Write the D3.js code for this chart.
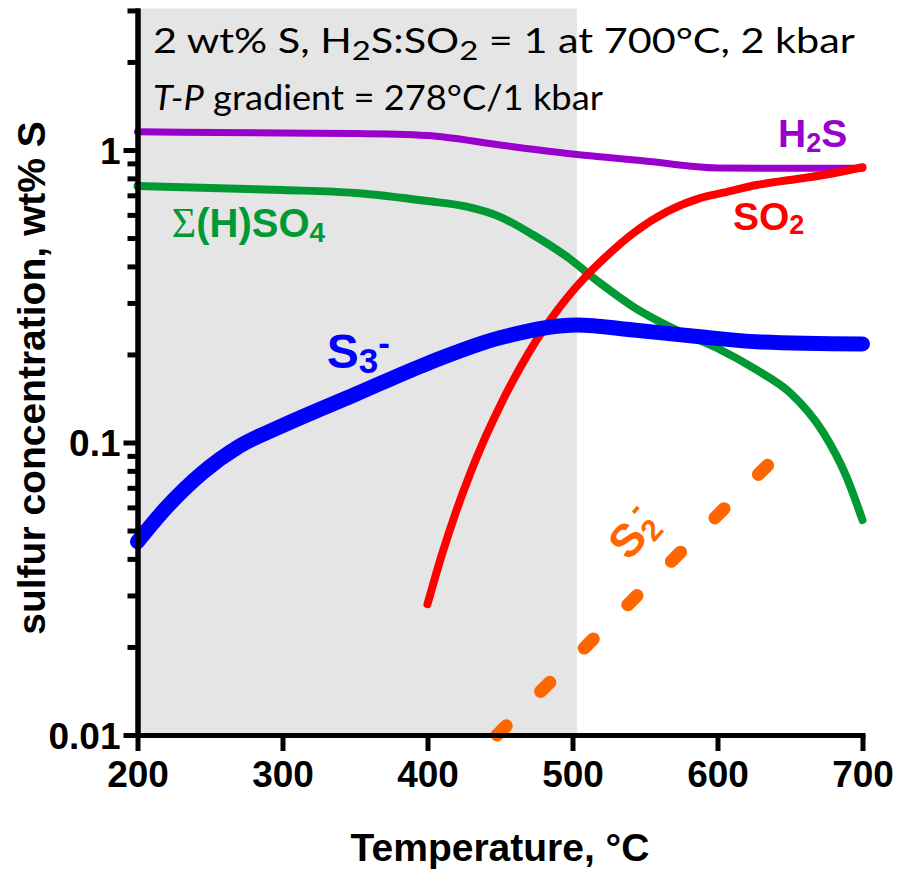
<!DOCTYPE html>
<html>
<head>
<meta charset="utf-8">
<script src="https://cdn.jsdelivr.net/npm/d3@7"></script>
<style>
  body { margin: 0; background: #fff; }
  svg { display: block; }
</style>
</head>
<body>
<script>
// values (temperature in °C, concentration in wt% S)
const h2sT = [200, 300, 350, 400, 450, 500, 550, 600, 650, 700];
const h2sWt = [1.155, 1.143, 1.139, 1.121, 1.040, 0.969, 0.917, 0.868, 0.866, 0.866];

const so4T = [200, 300, 350, 400, 427, 450, 473, 496, 519, 542, 575, 600, 627, 650, 673, 689, 700];
const so4Wt = [0.753, 0.730, 0.713, 0.669, 0.640, 0.591, 0.512, 0.432, 0.351, 0.291, 0.238, 0.210, 0.177, 0.148, 0.108, 0.0762, 0.0543];

const so2T = [400, 410, 420, 430, 440, 450, 460, 470, 480, 490, 500, 510, 520, 542, 565, 588, 604, 627, 650, 673, 700];
const so2Wt = [0.0280, 0.0415, 0.0586, 0.0796, 0.1045, 0.1334, 0.1663, 0.2032, 0.2432, 0.2851, 0.3289, 0.3733, 0.4178, 0.520, 0.615, 0.685, 0.7145, 0.759, 0.790, 0.821, 0.873];

const s3T = [200, 220, 245, 270, 300, 350, 400, 450, 503, 542, 588, 627, 700];
const s3Wt = [0.0458, 0.0600, 0.0790, 0.0970, 0.1142, 0.1459, 0.1864, 0.228, 0.2522, 0.2424, 0.2300, 0.2211, 0.2172];

const s2T = [448, 500, 550, 600, 635];
const s2Wt = [0.0100, 0.0181, 0.0319, 0.0564, 0.0840];

const xTicks = [200, 300, 400, 500, 600, 700];
const yMajor = [0.01, 0.1, 1];
const yMinor = [0.02, 0.03, 0.04, 0.05, 0.06, 0.07, 0.08, 0.09,
                0.2, 0.3, 0.4, 0.5, 0.6, 0.7, 0.8, 0.9, 2, 3];
const shadeEnd = 503;

const W = 897, H = 869;
const left = 137.5, right = 862.5, bottom = 735;

const x = d3.scaleLinear().domain([200, 700]).range([left, right]);
const y = d3.scaleLog().domain([0.01, 3]).range([bottom, bottom - 292.5 * Math.log10(300)]);

const svg = d3.select("body").append("svg")
    .attr("width", W)
    .attr("height", H);

// grey band up to ~500 °C
svg.append("rect")
    .attr("x", x(200))
    .attr("y", y(3) - 2)
    .attr("width", x(shadeEnd) - x(200))
    .attr("height", bottom - y(3) + 2)
    .attr("fill", "#e5e5e5");

const line = d3.line()
    .x(d => x(d[0]))
    .y(d => y(d[1]))
    .curve(d3.curveMonotoneX);

const zip = (a, b) => a.map((t, i) => [t, b[i]]);

const series = [
    { pts: zip(h2sT, h2sWt), color: "#9900cc", width: 7 },
    { pts: zip(so4T, so4Wt), color: "#009933", width: 8 },
    { pts: zip(so2T, so2Wt), color: "#ff0000", width: 8 },
    { pts: zip(s3T, s3Wt), color: "#0000ff", width: 15 },
];

series.forEach(s => {
    svg.append("path")
        .attr("d", line(s.pts))
        .attr("fill", "none")
        .attr("stroke", s.color)
        .attr("stroke-width", s.width)
        .attr("stroke-linecap", "round")
        .attr("stroke-linejoin", "round");
});

svg.append("path")
    .attr("d", line(zip(s2T, s2Wt)))
    .attr("fill", "none")
    .attr("stroke", "#ff6600")
    .attr("stroke-width", 13)
    .attr("stroke-linecap", "round")
    .attr("stroke-dasharray", "13,48.5");

// axes
const yMinorAxis = d3.axisLeft(y).tickValues(yMinor).tickFormat("").tickSize(10).tickSizeOuter(0);
const yAxis = d3.axisLeft(y).tickValues(yMajor).tickFormat(d3.format("~g")).tickSize(14).tickPadding(3).tickSizeOuter(0);
const xAxis = d3.axisBottom(x).tickValues(xTicks).tickSize(16).tickPadding(10).tickSizeOuter(0);

const gYm = svg.append("g").attr("transform", `translate(${left},0)`).call(yMinorAxis);
const gY = svg.append("g").attr("transform", `translate(${left},0)`).call(yAxis);
const gX = svg.append("g").attr("transform", `translate(0,${bottom})`).call(xAxis);

[gYm, gY, gX].forEach(g => {
    g.select(".domain").attr("stroke-width", 5).attr("stroke-linecap", "square");
    g.selectAll(".tick line").attr("stroke-width", 5);
    g.selectAll("text")
        .attr("font-family", "'Liberation Sans', Arial, sans-serif")
        .attr("font-weight", "bold")
        .attr("font-size", 37)
        .attr("fill", "#000");
});
gY.selectAll("text").attr("dy", "0.36em");

// axis titles
svg.append("text")
    .attr("x", 500)
    .attr("y", 861)
    .attr("text-anchor", "middle")
    .attr("font-family", "'Liberation Sans', Arial, sans-serif")
    .attr("font-weight", "bold")
    .attr("font-size", 39)
    .text("Temperature, °C");

svg.append("text")
    .attr("transform", "translate(45,378) rotate(-90)")
    .attr("text-anchor", "middle")
    .attr("font-family", "'Liberation Sans', Arial, sans-serif")
    .attr("font-weight", "bold")
    .attr("font-size", 39)
    .text("sulfur concentration, wt% S");

// condition notes, stretched to the widths seen in the reference
const fit = (t, x0, y0, target) => {
    const w = t.node().getComputedTextLength();
    t.attr("transform", `translate(${x0},${y0}) scale(${target / w},1) translate(${-x0},${-y0})`);
};

const note1 = svg.append("text")
    .attr("x", 153).attr("y", 53)
    .attr("font-family", "Lato, 'Open Sans', sans-serif")
    .attr("font-size", 34)
    .attr("fill", "#000");
note1.append("tspan").text("2 wt% S, H");
note1.append("tspan").attr("font-size", 27).attr("dy", 7).text("2");
note1.append("tspan").attr("dy", -7).text("S:SO");
note1.append("tspan").attr("font-size", 27).attr("dy", 7).text("2");
note1.append("tspan").attr("dy", -7).text(" = 1 at 700°C, 2 kbar");
fit(note1, 153, 53, 702);

const note2 = svg.append("text")
    .attr("x", 153).attr("y", 110)
    .attr("font-family", "Lato, 'Open Sans', sans-serif")
    .attr("font-size", 34)
    .attr("fill", "#000");
note2.append("tspan").attr("font-style", "italic").text("T-P");
note2.append("tspan").text(" gradient = 278°C/1 kbar");
fit(note2, 153, 110, 450);

// series labels
const label = (t, v, color, size) => svg.append("text")
    .attr("x", x(t)).attr("y", y(v))
    .attr("font-family", "'Liberation Sans', Arial, sans-serif")
    .attr("font-weight", "bold")
    .attr("font-size", size)
    .attr("fill", color);

const lH2S = label(641.7, 1.026, "#9900cc", 39);
lH2S.append("tspan").text("H");
lH2S.append("tspan").attr("font-size", 27).attr("dy", 5).text("2");
lH2S.append("tspan").attr("dy", -5).text("S");

const lSO2 = label(610.7, 0.5325, "#ff0000", 39);
lSO2.append("tspan").text("SO");
lSO2.append("tspan").attr("font-size", 27).attr("dy", 4).text("2");

const lSO4 = label(223.6, 0.5053, "#009933", 40);
lSO4.append("tspan").attr("font-family", "'Liberation Serif', serif").attr("font-weight", "normal").attr("font-size", 42).text("Σ");
lSO4.append("tspan").text("(H)SO");
lSO4.append("tspan").attr("font-size", 28).attr("dy", 5).text("4");

const lS3 = label(330.5, 0.1794, "#0000ff", 48);
lS3.append("tspan").text("S");
lS3.append("tspan").attr("font-size", 35).attr("dy", 5).text("3");
lS3.append("tspan").attr("font-size", 35).attr("dy", -18).text("-");

const lS2 = svg.append("text")
    .attr("transform", `translate(${x(550)},${y(0.0450)}) rotate(-48)`)
    .attr("text-anchor", "middle")
    .attr("font-family", "'Liberation Sans', Arial, sans-serif")
    .attr("font-weight", "bold")
    .attr("font-size", 46)
    .attr("fill", "#ff6600");
lS2.append("tspan").text("S");
lS2.append("tspan").attr("font-size", 30).attr("dy", 6).text("2");
lS2.append("tspan").attr("font-size", 30).attr("dx", -9).attr("dy", -28).text("-");
</script>
</body>
</html>
